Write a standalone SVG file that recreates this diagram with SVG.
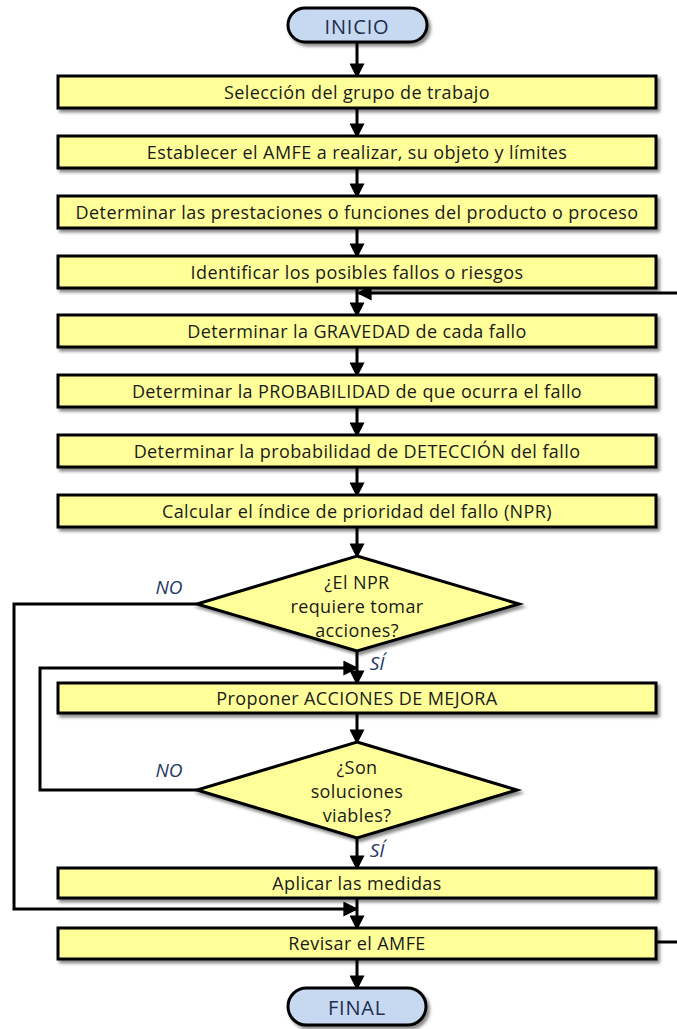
<svg xmlns="http://www.w3.org/2000/svg" width="677" height="1029" viewBox="0 0 677 1029">
<style>
.box{fill:#FFFF99;stroke:#000;stroke-width:3;filter:url(#sh)}
.term{fill:#C6D9F1;stroke:#000;stroke-width:3;filter:url(#sh)}
.t{font-family:"Open Sans","Liberation Sans",sans-serif;font-size:18px;letter-spacing:0.4px;fill:#1a1a1a;text-anchor:middle;dominant-baseline:central}
.tt{font-family:"Open Sans","Liberation Sans",sans-serif;font-size:20px;letter-spacing:0.8px;fill:#1F2D4F;text-anchor:middle;dominant-baseline:central}
.lbl{font-family:"Open Sans","Liberation Sans",sans-serif;font-size:19px;font-style:italic;fill:#1F3864;text-anchor:middle;dominant-baseline:central}
.c{fill:none;stroke:#000;stroke-width:3;marker-end:url(#ah)}
.cn{fill:none;stroke:#000;stroke-width:3}
</style>
<defs>
<filter id="sh" x="-5%" y="-30%" width="110%" height="170%">
<feDropShadow dx="2.5" dy="3" stdDeviation="1.5" flood-color="#000" flood-opacity="0.45"/>
</filter>
<marker id="ah" markerWidth="5" markerHeight="5" refX="4.2" refY="2.5" orient="auto" markerUnits="strokeWidth">
<path d="M0,0 L5,2.5 L0,5 Z" fill="#000"/>
</marker>
</defs>
<g id="connectors">
<path class="c" d="M357,42 V76"/>
<path class="c" d="M357,108 V136"/>
<path class="c" d="M357,168 V196"/>
<path class="c" d="M357,228 V256"/>
<path class="c" d="M357,288 V315"/>
<path class="c" d="M677,293 H359"/>
<path class="c" d="M357,347 V375"/>
<path class="c" d="M357,407 V435"/>
<path class="c" d="M357,467 V495"/>
<path class="c" d="M357,527 V556"/>
<path class="c" d="M357,651 V683"/>
<path class="c" d="M197,604 H14 V909 H356"/>
<path class="c" d="M357,713 V742"/>
<path class="c" d="M197,790 H40 V668 H356"/>
<path class="c" d="M357,838 V868"/>
<path class="c" d="M357,898 V928"/>
<path class="cn" d="M656,942 H677"/>
<path class="c" d="M357,959 V988"/>
<text class="lbl" x="169" y="587">NO</text>
<text class="lbl" x="169" y="770">NO</text>
<text class="lbl" x="377" y="663">SÍ</text>
<text class="lbl" x="377" y="850">SÍ</text>
</g>
<g id="inicio"><rect class="term" x="288" y="8" width="139" height="34" rx="17"/><text class="tt" x="357" y="26">INICIO</text></g>
<g id="n1"><rect class="box" x="58" y="76" width="598" height="32"/><text class="t" x="357" y="92">Selección del grupo de trabajo</text></g>
<g id="n2"><rect class="box" x="58" y="136" width="598" height="32"/><text class="t" x="357" y="152">Establecer el AMFE a realizar, su objeto y límites</text></g>
<g id="n3"><rect class="box" x="58" y="196" width="598" height="32"/><text class="t" x="357" y="212">Determinar las prestaciones o funciones del producto o proceso</text></g>
<g id="n4"><rect class="box" x="58" y="256" width="598" height="32"/><text class="t" x="357" y="272">Identificar los posibles fallos o riesgos</text></g>
<g id="n5"><rect class="box" x="58" y="315" width="598" height="32"/><text class="t" x="357" y="331">Determinar la GRAVEDAD de cada fallo</text></g>
<g id="n6"><rect class="box" x="58" y="375" width="598" height="32"/><text class="t" x="357" y="391">Determinar la PROBABILIDAD de que ocurra el fallo</text></g>
<g id="n7"><rect class="box" x="58" y="435" width="598" height="32"/><text class="t" x="357" y="451">Determinar la probabilidad de DETECCIÓN del fallo</text></g>
<g id="n8"><rect class="box" x="58" y="495" width="598" height="32"/><text class="t" x="357" y="511">Calcular el índice de prioridad del fallo (NPR)</text></g>
<g id="d1"><polygon class="box" points="357,556 519,604 357,651 197,604"/>
<text class="t" x="357" y="582">¿El NPR</text><text class="t" x="357" y="606">requiere tomar</text><text class="t" x="357" y="630">acciones?</text></g>
<g id="n9"><rect class="box" x="58" y="683" width="598" height="30"/><text class="t" x="357" y="698">Proponer ACCIONES DE MEJORA</text></g>
<g id="d2"><polygon class="box" points="357,742 517,790 357,838 197,790"/>
<text class="t" x="357" y="767">¿Son</text><text class="t" x="357" y="791">soluciones</text><text class="t" x="357" y="815">viables?</text></g>
<g id="n10"><rect class="box" x="58" y="868" width="598" height="30"/><text class="t" x="357" y="883">Aplicar las medidas</text></g>
<g id="n11"><rect class="box" x="58" y="928" width="598" height="31"/><text class="t" x="357" y="943">Revisar el AMFE</text></g>
<g id="final"><rect class="term" x="288" y="988" width="138" height="37" rx="18.5"/><text class="tt" x="357" y="1007">FINAL</text></g>
</svg>
